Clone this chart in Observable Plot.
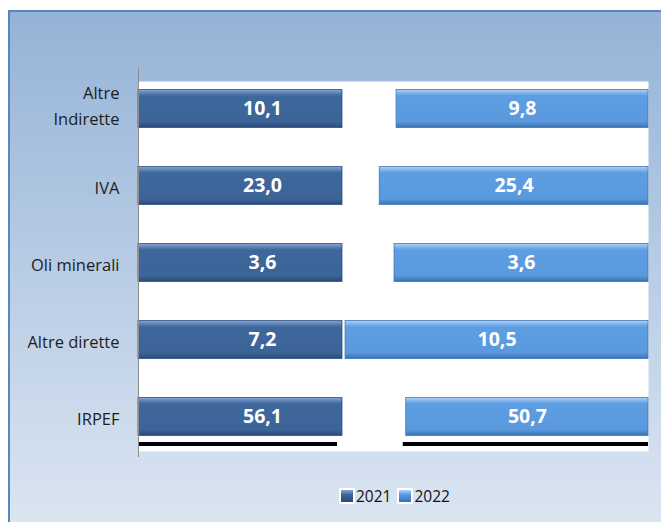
<!DOCTYPE html>
<html><head><meta charset="utf-8">
<script src="https://cdn.jsdelivr.net/npm/d3@7"></script>
<script src="https://cdn.jsdelivr.net/npm/@observablehq/plot@0.6"></script>
<style>
body{margin:0;background:#fff;}
#wrap{position:relative;width:661px;height:522px;overflow:hidden;background:#fff;}
#bg{position:absolute;left:8px;top:10px;width:660px;height:520px;border-left:2px solid #5a86c0;border-top:2px solid #5a86c0;background:linear-gradient(#95b3d7,#dce6f2);}
#chart{position:absolute;left:0;top:0;}
#legend{position:absolute;top:485px;left:339px;font:15.5px "Open Sans",sans-serif;color:#111;display:flex;align-items:center;}
.sw{width:12px;height:12px;border:2px solid #fff;margin-right:1px;}
.item{display:flex;align-items:center;margin-right:6px;}
</style></head>
<body>
<div id="wrap"><div id="bg"></div><div id="chart"></div>
<div id="legend"></div></div>
<script>
const categories = ["Altre Indirette","IVA","Oli minerali","Altre dirette","IRPEF"];
const categoryLabels = ["Altre\nIndirette","IVA","Oli minerali","Altre dirette","IRPEF"];
const series = ["2021","2022"];
const values2021 = [10.1,23.0,3.6,7.2,56.1];
const values2022 = [9.8,25.4,3.6,10.5,50.7];
// shares of the 100% stacked layout (2021 segment, empty gap, 2022 segment)
const share2021 = [40,40,40,40,40];
const shareGap = [10.6,7.3,10.2,0.6,12.5];
const share2022 = [49.4,52.7,49.8,59.4,47.5];

const rows = categories.map((c,i)=>({
  cat:c, label:categoryLabels[i], v21:values2021[i], v22:values2022[i],
  a0:0, a1:share2021[i],
  b0:share2021[i]+shareGap[i], b1:share2021[i]+shareGap[i]+share2022[i]
}));
const fmt = v => d3.format(".1f")(v).replace(".", ",");
const labelOpts = {y:"cat", text:"label", frameAnchor:"left", textAnchor:"end", dx:-19, fill:"#1e1e1e", fontSize:16.5, lineHeight:1.55};

const chart = Plot.plot({
  width:661, height:470, marginLeft:138, marginRight:13, marginTop:68, marginBottom:13,
  style:{background:"transparent", fontFamily:"'Open Sans', sans-serif", overflow:"visible"},
  x:{domain:[0,100], axis:null},
  y:{domain:categories, padding:0, axis:null},
  marks:[
    Plot.frame({fill:"white", stroke:null, insetTop:13, insetBottom:6}),
    Plot.barX(rows.filter(d=>d.cat==="IRPEF"), {y:"cat", x1:"a0", x2:"a1", fill:"black", insetTop:64, insetBottom:9, insetRight:5}),
    Plot.barX(rows.filter(d=>d.cat==="IRPEF"), {y:"cat", x1:"b0", x2:"b1", fill:"black", insetTop:64, insetBottom:9, insetLeft:-3}),
    Plot.barX(rows,{y:"cat", x1:"a0", x2:"a1", fill:"url(#g21)", stroke:"#2e5283", strokeWidth:0.8, insetTop:19.5, insetBottom:19.5}),
    Plot.barX(rows,{y:"cat", x1:"b0", x2:"b1", fill:"url(#g22)", stroke:"#3f78b6", strokeWidth:0.8, insetTop:19.5, insetBottom:19.5}),
    Plot.ruleX([0],{stroke:"#8c8c8c"}),
    Plot.text(rows,{y:"cat", x:d=>(d.a0+d.a1)/2, text:d=>fmt(d.v21), fill:"white", fontWeight:"bold", fontSize:19.5, dx:22}),
    Plot.text(rows,{y:"cat", x:d=>(d.b0+d.b1)/2, text:d=>fmt(d.v22), fill:"white", fontWeight:"bold", fontSize:19.5}),
    Plot.text(rows.filter(d=>!d.label.includes("\n")), labelOpts),
    Plot.text(rows.filter(d=>d.label.includes("\n")), {...labelOpts, dy:-5})
  ]
});
const svg = d3.select(chart);
const defs = svg.insert("defs", ":first-child");
function grad(id, stops){
  const g = defs.append("linearGradient").attr("id",id).attr("x1",0).attr("y1",0).attr("x2",0).attr("y2",1);
  stops.forEach(([o,c])=>g.append("stop").attr("offset",o).attr("stop-color",c));
}
grad("g21", [[0,"#86a6d4"],[0.1,"#5a7fb3"],[0.17,"#3e679b"],[0.85,"#3c6498"],[1,"#2a4a78"]]);
grad("g22", [[0,"#b0d2f8"],[0.1,"#7db0ec"],[0.17,"#5d9de1"],[0.85,"#5a99de"],[1,"#3b71ae"]]);
document.getElementById("chart").appendChild(chart);

const lg = d3.select("#legend");
const swGrad = {"2021":"linear-gradient(#86a6d4,#3c6498 40%,#2a4a78)","2022":"linear-gradient(#b0d2f8,#5a99de 40%,#3b71ae)"};
series.forEach(s=>{
  const it = lg.append("div").attr("class","item");
  it.append("div").attr("class","sw").style("background",swGrad[s]);
  it.append("span").text(s);
});
</script>
</body></html>
